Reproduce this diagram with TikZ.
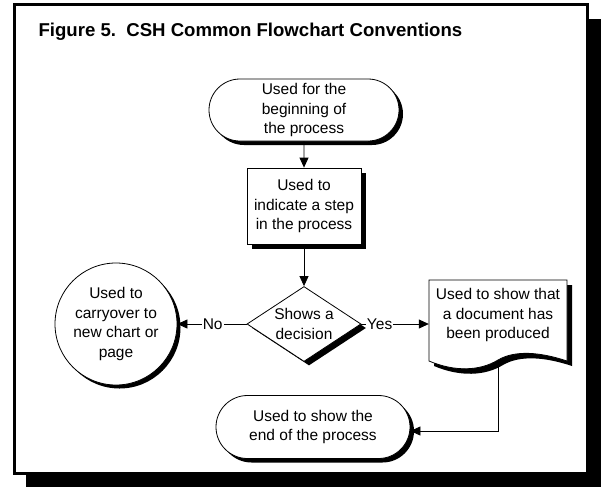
\documentclass[tikz,border=0pt]{standalone}
\usepackage{fontspec}
\setmainfont{Liberation Sans}
\usetikzlibrary{shapes.geometric,shapes.misc,arrows.meta,shadows}

\tikzset{
  every node/.style={font=\fontsize{15.5}{19.5}\selectfont, align=center},
  drop/.style 2 args={general shadow={fill=black, shadow xshift=#1, shadow yshift=-#2}},
  terminal/.style={rounded rectangle, draw, fill=white, line width=0.8pt,
    inner sep=0pt, drop={4pt}{4pt}},
  stepbox/.style={rectangle, draw, fill=white, line width=0.8pt,
    inner sep=0pt, drop={5pt}{5pt}},
  decision/.style={diamond, aspect=1.5, draw, fill=white, line width=0.8pt,
    inner sep=0pt, minimum width=114pt, minimum height=75pt, drop={5pt}{4pt}},
  carry/.style={circle, draw, fill=white, line width=0.8pt,
    inner sep=0pt, minimum size=122pt, drop={3.5pt}{3.5pt}},
  doctext/.style={rectangle, inner sep=0pt, minimum width=138pt, minimum height=70pt},
  arr/.style={line width=0.8pt, -{Triangle[length=10pt,width=9pt]}},
  tag/.style={fill=white, inner sep=1pt}
}

\begin{document}
\begin{tikzpicture}[x=1pt, y=-1pt]
  \useasboundingbox (0,0) rectangle (601,487);

  % framed panel with its heavy drop shadow
  \fill[black] (26,19) rectangle (601,487);
  \draw[line width=3pt, fill=white] (14,5) rectangle (587,473);

  \node[anchor=base west, font=\bfseries\fontsize{18.6}{21}\selectfont]
    (title) at (35,37) {Figure 5.\ \ CSH Common Flowchart Conventions};

  % flowchart symbols
  \node[terminal, minimum width=190pt, minimum height=62pt] (start) at (304,110)
    {Used for the\\beginning of\\the process};
  \node[stepbox, minimum width=114pt, minimum height=76pt] (step) at (304,206)
    {Used to\\indicate a step\\in the process};
  \node[decision] (dec) at (304,324) {Shows a\\decision};
  \node[carry] (car) at (116,324) {Used to\\carryover to\\new chart or\\page};

  % document symbol: outline with wavy bottom, text on top
  \path[draw, fill=white, line width=0.8pt, drop={5pt}{5pt}]
    (429,280) -- (567,280) -- (567,361)
    .. controls (540,352) and (515,350) .. (498,360)
    .. controls (480,371) and (455,372) .. (429,361) -- cycle;
  \node[doctext] (doc) at (498,315) {Used to show that\\a document has\\been produced};
  \coordinate (docout) at (498,366);

  \node[terminal, minimum width=194pt, minimum height=63pt] (end) at (313,427)
    {Used to show the\\end of the process};

  % connectors
  \draw[arr] (start) -- (step);
  \draw[arr] (step) -- (dec);
  \draw[arr] (dec.west) -- node[tag, pos=0.49] {No} (car.east);
  \draw[arr] (dec.east) -- node[tag, pos=0.27] {Yes} (dec.east -| doc.west);
  \draw[arr] (docout) |- ([yshift=-4pt]end.east);
\end{tikzpicture}
\end{document}
